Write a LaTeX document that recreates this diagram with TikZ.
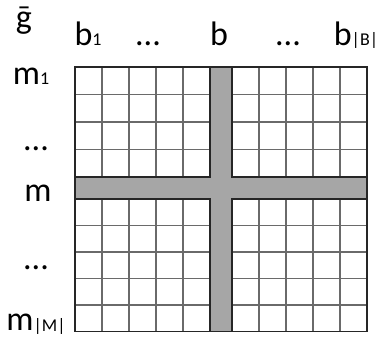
\documentclass[tikz,border=0pt]{standalone}
\usepackage{fontspec}
\setmainfont{Carlito}
\usetikzlibrary{positioning}

\definecolor{crossgray}{HTML}{A6A6A6}
\definecolor{linegray}{HTML}{6A6A6A}
\newcommand\idx[1]{\raisebox{-0.4pt}{\fontsize{9}{10}\selectfont #1}}

\begin{document}
\begin{tikzpicture}[x=0.5pt, y=-0.5pt,
  lbl/.style={anchor=base, inner sep=0pt, font=\fontsize{17}{20}\selectfont},
  cellline/.style={draw=linegray, line width=0.6pt},
  crossbar/.style={fill=crossgray, draw=black!85, line width=0.6pt}]
  \useasboundingbox (0,0) rectangle (377,338);

  % cell rows above and below m
  \foreach \y in {67,94.5,122,149.5,177}
    \draw[cellline] (75,\y) -- (367,\y);
  \foreach \y in {199,225.5,252,278.5,305,331.5}
    \draw[cellline] (75,\y) -- (367,\y);
  % cell columns left and right of b
  \foreach \x in {75,102,129,156,183,210}
    \draw[cellline] (\x,67) -- (\x,331.5);
  \foreach \x in {232,259,286,313,340,367}
    \draw[cellline] (\x,67) -- (\x,331.5);
  \draw[black!85, line width=0.6pt] (75,67) rectangle (367,331.5);

  % row m and column b
  \draw[crossbar] (75,177) -- (210,177) -- (210,67) -- (232,67) -- (232,177)
    -- (367,177) -- (367,199) -- (232,199) -- (232,331.5) -- (210,331.5)
    -- (210,199) -- (75,199) -- cycle;

  % column labels
  \node[lbl] (gbar) at (24,28) {ḡ};
  \node[lbl] (b1) at (88,45) {b\idx{1}};
  \node[lbl] (hdots1) at (148,45) {...};
  \node[lbl] (b) at (219,45) {b};
  \node[lbl] (hdots2) at (288,45) {...};
  \node[lbl] (bB) at (356,45) {b\idx{|B|}};

  % row labels
  \node[lbl] (m1) at (31,84) {m\idx{1}};
  \node[lbl] (vdots1) at (36,150) {...};
  \node[lbl] (m) at (38,201) {m};
  \node[lbl] (vdots2) at (36,270) {...};
  \node[lbl] (mM) at (36,331) {m\idx{|M|}};
\end{tikzpicture}
\end{document}
